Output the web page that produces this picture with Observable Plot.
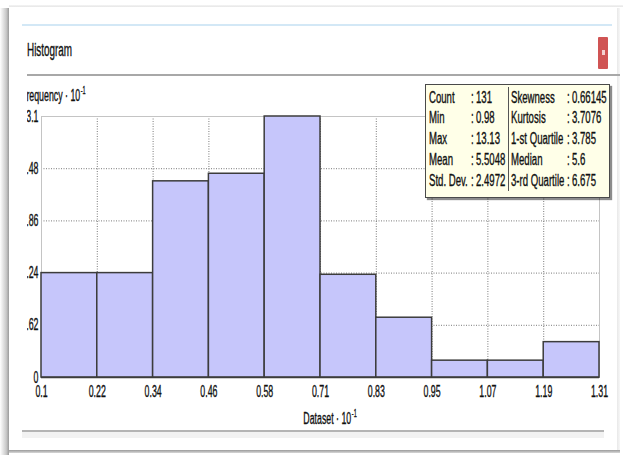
<!DOCTYPE html>
<html><head><meta charset="utf-8">
<script src="https://cdn.jsdelivr.net/npm/d3@7"></script>
<script src="https://cdn.jsdelivr.net/npm/@observablehq/plot@0.6"></script>
<style>
  html,body{margin:0;padding:0;background:#fff;}
  #page{position:relative;width:623px;height:455px;overflow:hidden;background:#fff;font-family:"Liberation Sans",Arial,sans-serif;color:#111;}
  .abs{position:absolute;}
  .t{position:absolute;white-space:nowrap;transform-origin:0 50%;-webkit-text-stroke:0.35px #111;}
  .t sup{position:relative;top:-7px;font-size:10px;vertical-align:baseline;line-height:0;margin-left:1px;}
</style>
</head><body>
<div id="page"></div>
<script>
// ---- data ----
const binEdges = [0.098, 0.2194, 0.3409, 0.4623, 0.5837, 0.7052, 0.8266, 0.9480, 1.0694, 1.1909, 1.3123];
const xTickLabels = ["0.1","0.22","0.34","0.46","0.58","0.71","0.83","0.95","1.07","1.19","1.31"];
const frequencies = [1.24, 1.24, 2.33, 2.42, 3.1, 1.22, 0.71, 0.2, 0.2, 0.42];
const yTicks = [0, 0.62, 1.24, 1.86, 2.48, 3.1];
const yTickLabels = ["0","0.62","1.24","1.86","2.48","3.1"];
const statNames1 = ["Count","Min","Max","Mean","Std. Dev."];
const statValues1 = ["131","0.98","13.13","5.5048","2.4972"];
const statNames2 = ["Skewness","Kurtosis","1-st Quartile","Median","3-rd Quartile"];
const statValues2 = ["0.66145","3.7076","3.785","5.6","6.675"];
const titleText = "Histogram";
const xLabelText = "Dataset · 10";
const yLabelText = "Frequency · 10";
const expText = "-1";

const bins = frequencies.map((f, i) => ({x1: binEdges[i], x2: binEdges[i+1], f}));
const xFmt = new Map(binEdges.map((e, i) => [e, xTickLabels[i]]));
const yFmt = new Map(yTicks.map((e, i) => [e, yTickLabels[i]]));

const page = document.getElementById("page");
const R = 0.55; // horizontal condensation of the reference text

function el(parent, css) { const d = document.createElement("div"); d.className = "abs"; Object.assign(d.style, css); parent.appendChild(d); return d; }
function txt(parent, html, x, yc, size, anchor = "start", ratio = R) {
  const d = document.createElement("div");
  d.className = "t";
  d.innerHTML = html;
  d.style.left = x + "px";
  d.style.top = (yc - size * 0.6) + "px";
  d.style.fontSize = size + "px";
  d.style.lineHeight = (size * 1.2) + "px";
  d.style.transform = anchor === "middle" ? `scaleX(${ratio}) translateX(-50%)` : anchor === "end" ? `scaleX(${ratio}) translateX(-100%)` : `scaleX(${ratio})`;
  parent.appendChild(d);
  return d;
}

// ---- window chrome ----
el(page, {left:"0px", top:"8px", width:"9px", height:"447px", background:"linear-gradient(to right, #fff, #c8c8c8 70%, #9a9a9a)"});
el(page, {left:"9px", top:"5px", width:"614px", height:"2px", background:"linear-gradient(to bottom, #f4f4f4, #e6e6e6)"});
el(page, {left:"9px", top:"450px", width:"611px", height:"3px", background:"linear-gradient(to bottom, #9a9a9a, #d8d8d8)"});
el(page, {left:"617px", top:"8px", width:"3px", height:"442px", background:"linear-gradient(to right, #e8e8e8, #f7f7f7)"});
el(page, {left:"22px", top:"24px", width:"590px", height:"2px", background:"#d3e8f6"});
el(page, {left:"27px", top:"74px", width:"593px", height:"2px", background:"#a8a8a8"});
el(page, {left:"22px", top:"430px", width:"582px", height:"2px", background:"#b4b4b4"});
el(page, {left:"22px", top:"432px", width:"582px", height:"6px", background:"#f2f2f2"});
// red close button
const btn = el(page, {left:"598px", top:"37px", width:"10px", height:"32px", background:"#d05454", borderRadius:"1px"});
el(btn, {left:"4px", top:"13px", width:"3px", height:"5px", background:"#f3d0d0"});
txt(page, titleText, 27, 51, 18);

// ---- clipped plot region ----
const clip = el(page, {left:"27px", top:"78px", width:"593px", height:"350px", overflow:"hidden"});

const plot = Plot.plot({
  width: 623, height: 455,
  marginLeft: 41, marginRight: 24, marginTop: 116, marginBottom: 78,
  style: {fontFamily: "'Liberation Sans', Arial, sans-serif", fontSize: "16px", color: "#111", background: "transparent", maxWidth: "none", overflow: "visible"},
  x: {domain: [binEdges[0], binEdges[binEdges.length-1]], ticks: binEdges, tickFormat: d => xFmt.get(d), tickSize: 0, tickPadding: 8, label: null},
  y: {domain: [0, 3.1], ticks: yTicks, tickFormat: d => yFmt.get(d), tickSize: 0, tickPadding: 3, label: null},
  marks: [
    Plot.gridX(binEdges.slice(1, -1), {stroke: "#7a7a7a", strokeOpacity: 1, strokeDasharray: "1,1.5"}),
    Plot.gridY(yTicks.slice(1, -1), {stroke: "#7a7a7a", strokeOpacity: 1, strokeDasharray: "1,1.5"}),
    Plot.frame({stroke: "#c4c4c4"}),
    Plot.rectY(bins, {x1: "x1", x2: "x2", y: "f", fill: "#c6c6fb", stroke: "#3c3c3c", strokeWidth: 1.5}),
    Plot.ruleY([0], {stroke: "#3c3c3c", strokeWidth: 1.5})
  ]
});
plot.style.position = "absolute";
plot.style.left = "-27px";
plot.style.top = "-78px";
clip.appendChild(plot);
// condense tick label text to match reference's narrow glyphs
plot.querySelectorAll('g[aria-label$="tick label"] text').forEach(t => {
  const L = t.getComputedTextLength();
  t.setAttribute("textLength", (L * R).toFixed(2));
  t.setAttribute("lengthAdjust", "spacingAndGlyphs");
  t.setAttribute("stroke", "#111");
  t.setAttribute("stroke-width", "0.35");
});

// axis labels (inside clip, page coords offset by clip origin)
txt(clip, `${yLabelText}<sup>${expText}</sup>`, 21 - 27, 96 - 78, 16);
txt(clip, `${xLabelText}<sup>${expText}</sup>`, 330 - 27, 419 - 78, 16, "middle");

// ---- statistics box ----
const box = el(page, {left:"425px", top:"84px", width:"183px", height:"112px", background:"#ffffe8", border:"1px solid #4a4a4a", boxShadow:"2px 2px 1px rgba(0,0,0,0.45)"});
el(box, {left:"82px", top:"2px", width:"1px", height:"104px", background:"#555"});
const rowY = [13, 33, 54, 75, 96];
const SR = 0.6;
statNames1.forEach((n, i) => {
  txt(box, n, 3, rowY[i], 16, "start", SR);
  txt(box, ":", 45, rowY[i], 16, "start", SR);
  txt(box, statValues1[i], 50, rowY[i], 16, "start", SR);
  txt(box, statNames2[i], 85, rowY[i], 16, "start", SR);
  txt(box, ":", 141, rowY[i], 16, "start", SR);
  txt(box, statValues2[i], 146, rowY[i], 16, "start", SR);
});
</script>
</body></html>
